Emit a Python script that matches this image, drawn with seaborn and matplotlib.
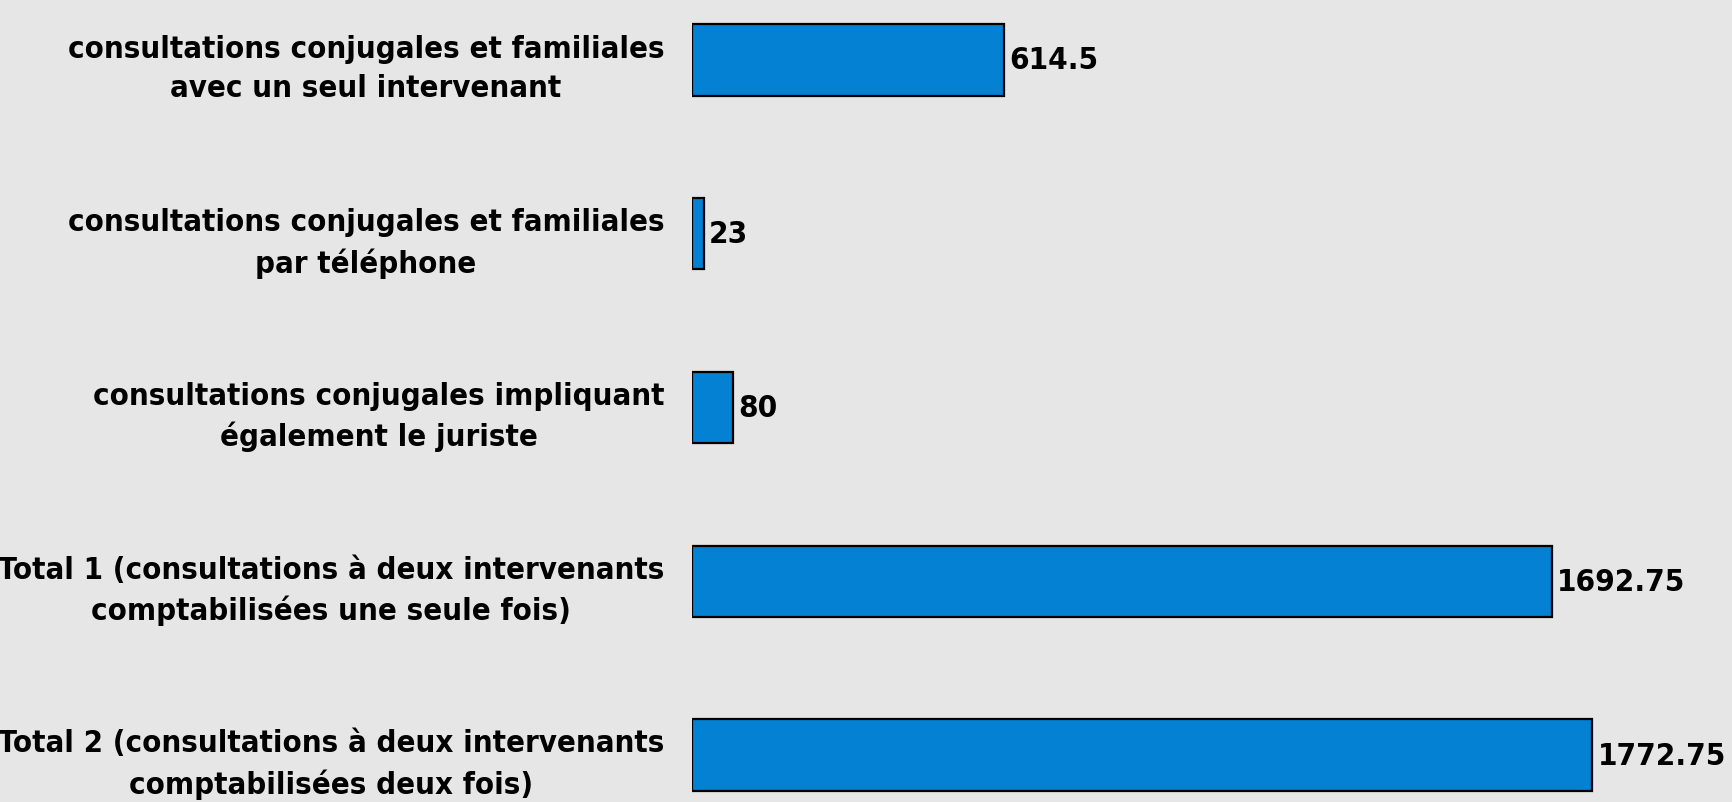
import matplotlib
matplotlib.use('Agg')
import matplotlib.pyplot as plt
import seaborn as sns
import pandas as pd

# Data
categories = [
    'consultations conjugales et familiales\navec un seul intervenant',
    'consultations conjugales et familiales\npar téléphone',
    'consultations conjugales impliquant\négalement le juriste',
    'Total 1 (consultations à deux intervenants\ncomptabilisées une seule fois)',
    'Total 2 (consultations à deux intervenants\ncomptabilisées deux fois)',
]
values = [614.5, 23, 80, 1692.75, 1772.75]
value_labels = ['614.5', '23', '80', '1692.75', '1772.75']

df = pd.DataFrame({'categorie': categories, 'valeur': values})

bg = '#e6e6e6'
bar_color = '#0581d3'

sns.set_theme(style='white')
plt.rcParams['font.family'] = ['DejaVu Sans']
plt.rcParams['font.stretch'] = 'condensed'
plt.rcParams['font.weight'] = 'bold'

fig = plt.figure(figsize=(17.33, 8.03), dpi=100, facecolor=bg)
ax = fig.add_axes([692 / 1733, 0, 1041 / 1733, 1])
ax.set_facecolor(bg)

sns.barplot(data=df, x='valeur', y='categorie', orient='h', color=bar_color,
            saturation=1, edgecolor='black', linewidth=1.6, width=0.41, ax=ax)

ax.bar_label(ax.containers[0], labels=value_labels, padding=4,
             fontsize=22.5, fontweight='bold', fontstretch='condensed', color='black')

ax.set_xlim(0, 2050)
ax.set_ylim(4.27, -0.351)
ax.set_xlabel('')
ax.set_ylabel('')
ax.set_xticks([])
ax.tick_params(axis='y', length=0, pad=20)
for lbl in ax.get_yticklabels():
    lbl.set_fontsize(22.3)
    lbl.set_fontweight('bold')
    lbl.set_fontstretch('condensed')
    lbl.set_multialignment('center')
    lbl.set_linespacing(1.45)
    lbl.set_color('black')
sns.despine(ax=ax, left=True, bottom=True)

fig.savefig('out.png', dpi=100, facecolor=bg)
